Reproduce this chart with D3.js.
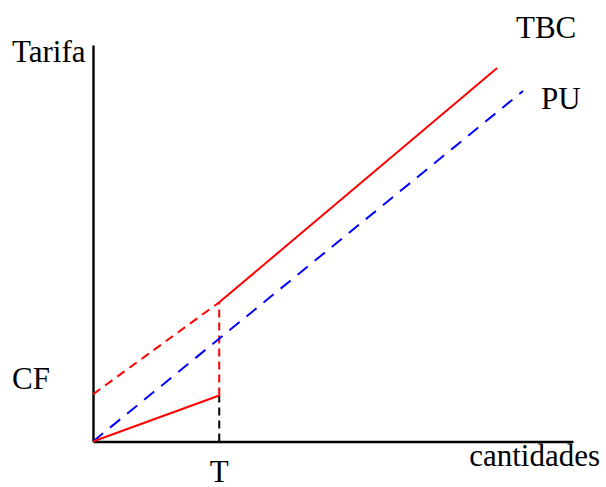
<!DOCTYPE html>
<html>
<head>
<meta charset="utf-8">
<script src="https://cdn.jsdelivr.net/npm/d3@7"></script>
<style>
  html, body { margin: 0; padding: 0; background: #fff; }
  text { font-family: "Liberation Serif", "Times New Roman", serif; fill: #000; }
</style>
</head>
<body>
<svg id="chart" width="606" height="487"></svg>
<script>
// Data (abstract units)
const tPoint = 26.3;
const fixedCostX = [0, 26.3];      // red dashed (CF + variable extension)
const fixedCostY = [11.9, 35.1];
const lowerX = [0, 26.3];          // red solid from origin
const lowerY = [0, 11.6];
const tbcX = [26.3, 84.2];         // TBC red solid
const tbcY = [35.1, 94.2];
const puX = [0, 89.6];             // PU blue dashed
const puY = [0, 88.4];
const labels = ["Tarifa", "cantidades", "CF", "T", "TBC", "PU"];

const svg = d3.select("#chart");
const x = d3.scaleLinear().domain([0, 100]).range([93, 573]);
const y = d3.scaleLinear().domain([0, 100]).range([441.5, 45]);

const line = d3.line().x(d => x(d[0])).y(d => y(d[1]));
const pts = (xs, ys) => xs.map((v, i) => [v, ys[i]]);

// axes
svg.append("g").attr("transform", `translate(0,${y(0)})`)
  .call(d3.axisBottom(x).tickValues([]).tickSizeOuter(0))
  .call(g => g.select(".domain").attr("stroke", "#000").attr("stroke-width", 2.4));
svg.append("g").attr("transform", `translate(${x(0)},0)`)
  .call(d3.axisLeft(y).tickValues([]).tickSizeOuter(0))
  .call(g => g.select(".domain").attr("stroke", "#000").attr("stroke-width", 2.4));

// black dashed vertical from axis to lower red end
svg.append("path").attr("d", line([[tPoint, 0], [tPoint, lowerY[1]]]))
  .attr("fill", "none").attr("stroke", "#000").attr("stroke-width", 2).attr("stroke-dasharray", "8,5");
// red dashed vertical
svg.append("path").attr("d", line([[tPoint, lowerY[1]], [tPoint, tbcY[0]]]))
  .attr("fill", "none").attr("stroke", "#ff0000").attr("stroke-width", 2).attr("stroke-dasharray", "8,5");
// red dashed CF line
svg.append("path").attr("d", line(pts(fixedCostX, fixedCostY)))
  .attr("fill", "none").attr("stroke", "#ff0000").attr("stroke-width", 2).attr("stroke-dasharray", "9,6");
// blue dashed PU
svg.append("path").attr("d", line(pts(puX, puY)))
  .attr("fill", "none").attr("stroke", "#0000ff").attr("stroke-width", 2).attr("stroke-dasharray", "13,9");
// red solid lower
svg.append("path").attr("d", line(pts(lowerX, lowerY)))
  .attr("fill", "none").attr("stroke", "#ff0000").attr("stroke-width", 2);
// red solid TBC
svg.append("path").attr("d", line(pts(tbcX, tbcY)))
  .attr("fill", "none").attr("stroke", "#ff0000").attr("stroke-width", 2);

const fs = 31;
svg.append("text").attr("x", 12).attr("y", 62).attr("font-size", fs).text(labels[0]);
svg.append("text").attr("x", 600).attr("y", 466).attr("text-anchor", "end").attr("font-size", fs).text(labels[1]);
svg.append("text").attr("x", 12).attr("y", 389).attr("font-size", fs).text(labels[2]);
svg.append("text").attr("x", x(tPoint)).attr("y", 482).attr("text-anchor", "middle").attr("font-size", fs).text(labels[3]);
svg.append("text").attr("x", 516).attr("y", 38).attr("font-size", fs).text(labels[4]);
svg.append("text").attr("x", 541).attr("y", 109).attr("font-size", fs).text(labels[5]);
</script>
</body>
</html>
